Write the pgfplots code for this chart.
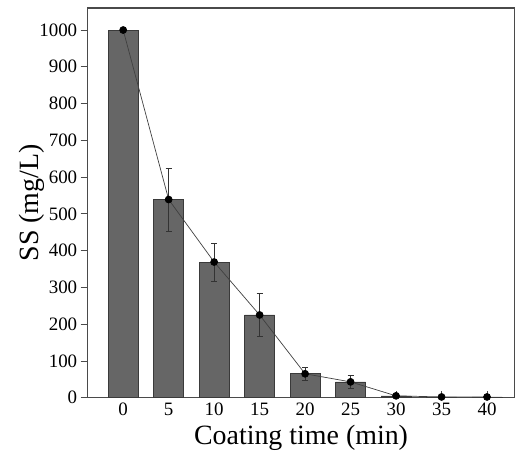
\documentclass[border=0pt]{standalone}
\usepackage{fontspec}
\setmainfont{Liberation Serif}
\usepackage{pgfplots}
\pgfplotsset{compat=1.18}
\definecolor{BarFill}{HTML}{666666}
\definecolor{BarEdge}{HTML}{3A3A3A}
\definecolor{FrameGray}{HTML}{4A4A4A}

\begin{document}
\begin{tikzpicture}
  \begin{axis}[
    scale only axis,
    width=428pt, height=391pt,
    xmin=-3.9, xmax=43, ymin=0, ymax=1060,
    xtick={0,5,...,40}, ytick={0,100,...,1000},
    xtick pos=bottom, ytick pos=left,
    xtick align=inside, ytick align=outside,
    major tick length=7pt,
    tick style={FrameGray, line width=0.8pt},
    axis line style={FrameGray, line width=1.4pt},
    /pgf/number format/assume math mode=true,
    /pgf/number format/1000 sep={},
    tick label style={font=\fontsize{19}{19}\selectfont},
    xticklabel style={yshift=-2pt},
    xlabel={Coating time (min)},
    ylabel={SS (mg/L)},
    label style={font=\fontsize{28}{28}\selectfont},
    xlabel style={yshift=-2pt},
    ylabel style={yshift=-12pt},
  ]
    % bars
    \addplot[ybar, bar width=3.3, fill=BarFill, draw=BarEdge, line width=0.6pt]
      coordinates {(0,1000)(5,539)(10,369)(15,225)(20,65)(25,43)(30,5)(35,2)(40,2)};
    % connecting line with error bars
    \addplot[black!75, line width=0.7pt, mark=*,
             mark options={black, fill=black, mark size=3.5pt},
             error bars/.cd, y dir=both, y explicit,
             error bar style={black!80, line width=0.6pt},
             error mark options={rotate=90, mark size=3pt, black!80}]
      coordinates {
        (0,1000) +- (0,0)
        (5,539) +- (0,85)
        (10,369) +- (0,52)
        (15,225) +- (0,58)
        (20,65) +- (0,17)
        (25,43) +- (0,18)
        (30,5) +- (0,0)
        (35,2) +- (0,0)
        (40,2) +- (0,0)
      };
  \end{axis}
  % white margin on the left and top, as in the reference
  \path ([xshift=-88pt,yshift=8pt]current axis.north west) coordinate (m);
  \path (m) -- (m);
\end{tikzpicture}
\end{document}
